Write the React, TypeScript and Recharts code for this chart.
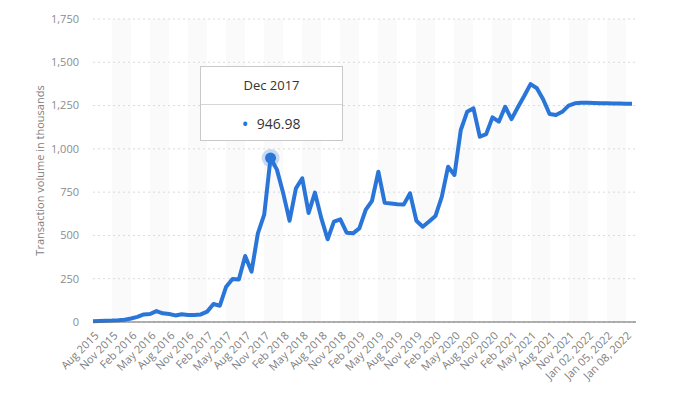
import { LineChart, Line, XAxis, YAxis, CartesianGrid, Tooltip } from "recharts";

const months = [
  "Aug 2015", "Sep 2015", "Oct 2015", "Nov 2015", "Dec 2015",
  "Jan 2016", "Feb 2016", "Mar 2016", "Apr 2016", "May 2016", "Jun 2016", "Jul 2016",
  "Aug 2016", "Sep 2016", "Oct 2016", "Nov 2016", "Dec 2016",
  "Jan 2017", "Feb 2017", "Mar 2017", "Apr 2017", "May 2017", "Jun 2017", "Jul 2017",
  "Aug 2017", "Sep 2017", "Oct 2017", "Nov 2017", "Dec 2017",
  "Jan 2018", "Feb 2018", "Mar 2018", "Apr 2018", "May 2018", "Jun 2018", "Jul 2018",
  "Aug 2018", "Sep 2018", "Oct 2018", "Nov 2018", "Dec 2018",
  "Jan 2019", "Feb 2019", "Mar 2019", "Apr 2019", "May 2019", "Jun 2019", "Jul 2019",
  "Aug 2019", "Sep 2019", "Oct 2019", "Nov 2019", "Dec 2019",
  "Jan 2020", "Feb 2020", "Mar 2020", "Apr 2020", "May 2020", "Jun 2020", "Jul 2020",
  "Aug 2020", "Sep 2020", "Oct 2020", "Nov 2020", "Dec 2020",
  "Jan 2021", "Feb 2021", "Mar 2021", "Apr 2021", "May 2021", "Jun 2021", "Jul 2021",
  "Aug 2021", "Sep 2021", "Oct 2021", "Nov 2021", "Dec 2021",
  "Jan 01, 2022", "Jan 02, 2022", "Jan 03, 2022", "Jan 04, 2022", "Jan 05, 2022",
  "Jan 06, 2022", "Jan 07, 2022", "Jan 08, 2022", "Jan 09, 2022",
];

// transaction volume, thousands
const volume = [
  5, 6, 7, 8, 10, 13, 20, 30, 44, 46, 63, 50, 46, 38, 45, 41, 41,
  44, 60, 104, 94, 204, 248, 246, 381, 291, 512, 620, 946.98,
  880, 743, 585, 772, 830, 630, 747, 600, 478, 580, 593, 516,
  512, 541, 647, 700, 868, 688, 684, 680, 678, 743, 585, 550,
  580, 612, 723, 897, 849, 1109, 1214, 1234, 1070, 1085, 1182, 1157,
  1243, 1172, 1240, 1305, 1374, 1350, 1285, 1201, 1195, 1214, 1250, 1263,
  1266, 1266, 1265, 1264, 1263, 1262, 1262, 1261, 1261,
];

const yTicks = [0, 250, 500, 750, 1000, 1250, 1500, 1750];

const data = months.map((m, i) => ({ month: m, value: volume[i] }));

const BLUE = "#2a76d8";
const FONT = "'Open Sans', 'DejaVu Sans', sans-serif";

function MonthTick(props: any) {
  const { x, y, payload } = props;
  return (
    <g transform={`translate(${x},${y})`}>
      <text
        x={0}
        y={0}
        dy={9}
        textAnchor="end"
        transform="rotate(-45)"
        fill="#808080"
        fontSize={11}
        fontFamily={FONT}
      >
        {payload.value}
      </text>
    </g>
  );
}

function TipBox({ active, payload, label }: any) {
  if (!active || !payload || !payload.length) return null;
  const v = payload[0].value as number;
  return (
    <div
      style={{
        width: 141,
        background: "#fff",
        border: "1px solid #c9c9c9",
        fontFamily: FONT,
        color: "#333",
      }}
    >
      <div
        style={{
          height: 37,
          lineHeight: "37px",
          textAlign: "center",
          fontSize: 13,
          borderBottom: "1px solid #d6d6d6",
        }}
      >
        {label}
      </div>
      <div style={{ height: 35, lineHeight: "38px", textAlign: "center", fontSize: 14 }}>
        <span style={{ color: BLUE, fontSize: 14, fontWeight: 700, marginRight: 9 }}>•</span>
        {v.toFixed(2)}
      </div>
    </div>
  );
}

function HoverDot(props: any) {
  const { cx, cy } = props;
  return (
    <g>
      <circle cx={cx} cy={cy} r={9} fill={BLUE} fillOpacity={0.25} />
      <circle cx={cx} cy={cy} r={5.5} fill={BLUE} />
    </g>
  );
}

export default function App() {
  return (
    <div style={{ position: "absolute", left: 0, top: 0, width: 678, height: 398, background: "#fff" }}>
      <LineChart
        width={678}
        height={398}
        data={data}
        margin={{ top: 19, right: 42, bottom: 0, left: 0 }}
      >
        <CartesianGrid
          horizontal={false}
          vertical
          stroke="none"
          verticalFill={["#ffffff", "#fafafb"]}
        />
        <CartesianGrid vertical={false} stroke="#dadada" strokeDasharray="2 3" />
        <XAxis
          dataKey="month"
          interval={2}
          height={76}
          padding={{ left: 0, right: 4 }}
          tickLine={false}
          axisLine={{ stroke: "#666", strokeWidth: 1.2 }}
          tick={<MonthTick />}
        />
        <YAxis
          width={93}
          domain={[0, 1750]}
          ticks={yTicks}
          tickLine={false}
          axisLine={false}
          tickMargin={8}
          tickFormatter={(v: number) => v.toLocaleString("en-US")}
          tick={{ fontSize: 11, fill: "#8c8c8c", fontFamily: FONT }}
          label={{
            value: "Transaction volume in thousands",
            angle: -90,
            position: "center",
            dx: -6,
            fontSize: 11,
            fill: "#808080",
            fontFamily: FONT,
          }}
        />
        <Tooltip
          defaultIndex={28}
          active
          cursor={false}
          position={{ x: 200, y: 66 }}
          content={<TipBox />}
          isAnimationActive={false}
        />
        <Line
          type="linear"
          dataKey="value"
          stroke={BLUE}
          strokeWidth={4}
          strokeLinejoin="round"
          dot={false}
          activeDot={<HoverDot />}
          isAnimationActive={false}
        />
      </LineChart>
    </div>
  );
}
